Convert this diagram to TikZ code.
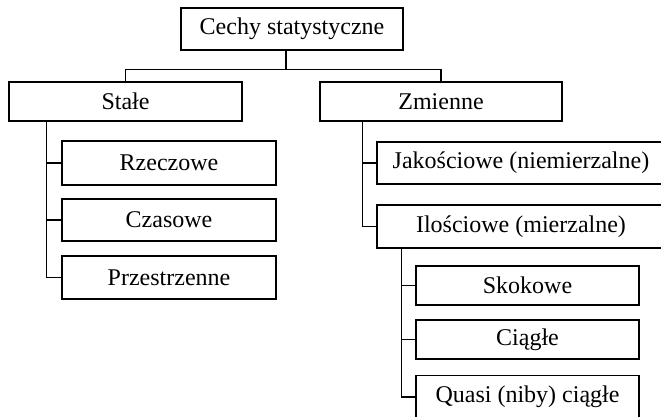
\documentclass[tikz,border=0pt]{standalone}
\usepackage{fontspec}
\setmainfont{Liberation Serif}
\usepackage{tikz}

\tikzset{
    box/.style={draw, line width=1.3pt, inner sep=0pt, font=\fontsize{24}{28}\selectfont},
    link/.style={line width=1.3pt}
}

\begin{document}
\begin{tikzpicture}[x=1pt, y=-1pt]
    \useasboundingbox (0,0) rectangle (661,417) ;
    \node[box, minimum width=222, minimum height=42] (cechy) at (292,29) {Cechy statystyczne} ;
    \node[box, minimum width=233, minimum height=39] (stale) at (125.5,101.5) {Stałe} ;
    \node[box, minimum width=242, minimum height=39] (zmienne) at (441,101.5) {Zmienne} ;
    \node[box, minimum width=214, minimum height=44] (rzeczowe) at (169,163) {Rzeczowe} ;
    \node[box, minimum width=214, minimum height=42] (czasowe) at (169,220) {Czasowe} ;
    \node[box, minimum width=214, minimum height=43] (przestrzenne) at (169,277.5) {Przestrzenne} ;
    \node[box, minimum width=288, minimum height=42] (jakosciowe) at (521,163) {Jakościowe (niemierzalne)} ;
    \node[box, minimum width=288, minimum height=43] (ilosciowe) at (521,226.5) {Ilościowe (mierzalne)} ;
    \node[box, minimum width=223, minimum height=39] (skokowe) at (527.5,285.5) {Skokowe} ;
    \node[box, minimum width=223, minimum height=39] (ciagle) at (527.5,339.5) {Ciągłe} ;
    \node[box, minimum width=223, minimum height=43] (quasi) at (527.5,397) {Quasi (niby) ciągłe} ;
    \draw[link] ([xshift=-6]cechy.south) -- ++(0,19) coordinate (bar) ;
    \draw[link] (stale.north) |- (bar) -| (zmienne.north) ;
    \foreach \n in {rzeczowe, czasowe, przestrzenne}
    \draw[link] ([xshift=38]stale.south west) |- (\n.west) ;
    \foreach \n in {jakosciowe, ilosciowe}
    \draw[link] ([xshift=43]zmienne.south west) |- (\n.west) ;
    \foreach \n in {skokowe, ciagle, quasi}
    \draw[link] ([xshift=25]ilosciowe.south west) |- (\n.west) ;
\end{tikzpicture}
\end{document}
